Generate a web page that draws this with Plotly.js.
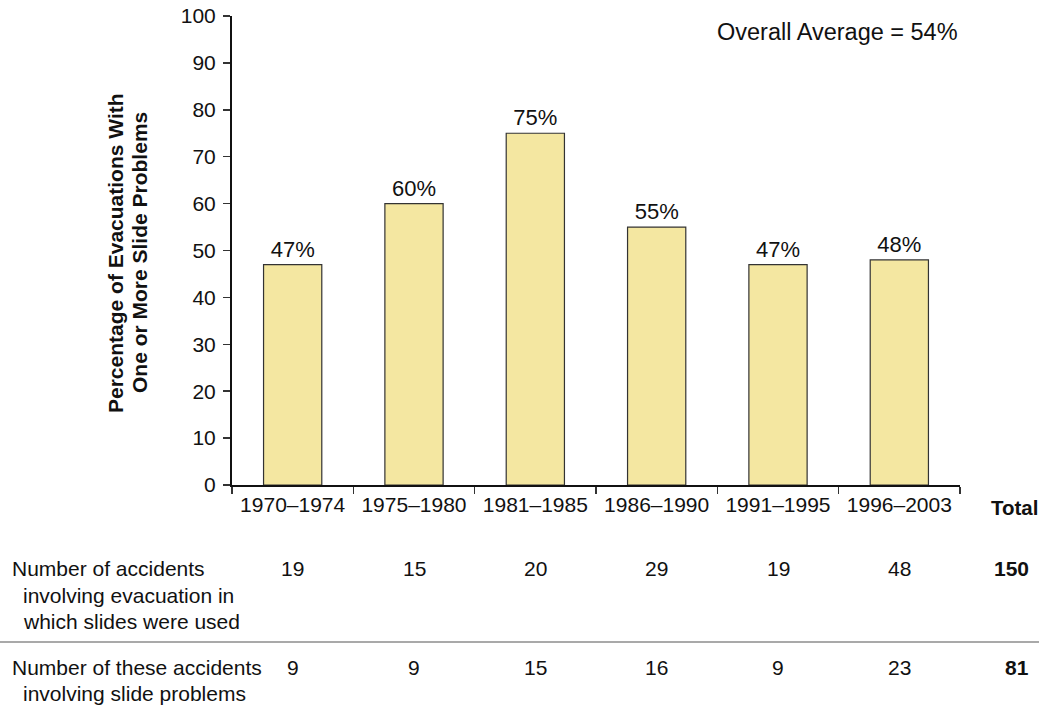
<!DOCTYPE html>
<html>
<head>
<meta charset="utf-8">
<script src="https://cdn.plot.ly/plotly-3.0.1.min.js"></script>
<style>html,body{margin:0;padding:0;background:#fff;}#chart{width:1041px;height:706px;}</style>
</head>
<body>
<div id="chart"></div>
<script>
var periods = ["1970–1974", "1975–1980", "1981–1985", "1986–1990", "1991–1995", "1996–2003"];
var percentages = [47, 60, 75, 55, 47, 48];
var accidentsWithSlides = [19, 15, 20, 29, 19, 48];
var accidentsWithProblems = [9, 9, 15, 16, 9, 23];
var totalWithSlides = 150;
var totalWithProblems = 81;
var overallAverage = 54;
var yTicks = [0, 10, 20, 30, 40, 50, 60, 70, 80, 90, 100];

var FONT = "Liberation Sans, Arial, Helvetica, sans-serif";
var TXT = "#111111";

var trace = {
  type: "bar",
  x: periods,
  y: percentages,
  text: percentages.map(function(v){return v + "%";}),
  textposition: "outside",
  cliponaxis: false,
  textfont: {family: FONT, size: 22, color: TXT},
  marker: {color: "#f4e7a1", line: {color: "#333333", width: 1.2}},
  width: 0.48,
  hoverinfo: "none"
};

var ann = [];
function pyPix(py){ return (485 - py) / 469; }
function pxPix(px){ return (px - 232) / 728; }
// y-axis title (two separate lines for exact spacing)
ann.push({xref: "paper", yref: "paper", x: pxPix(116), y: pyPix(253), xanchor: "center", yanchor: "middle",
  text: "<b>Percentage of Evacuations With</b>", textangle: -90,
  showarrow: false, font: {family: FONT, size: 21, color: TXT}});
ann.push({xref: "paper", yref: "paper", x: pxPix(140), y: pyPix(253), xanchor: "center", yanchor: "middle",
  text: "<b>One or More Slide Problems</b>", textangle: -90,
  showarrow: false, font: {family: FONT, size: 21, color: TXT}});
// overall average
ann.push({xref: "paper", yref: "paper", x: pxPix(960), y: pyPix(32), xanchor: "right", yanchor: "middle",
  text: "Overall Average = " + overallAverage + "%", showarrow: false,
  font: {family: FONT, size: 23.5, color: TXT}});
// Total header
ann.push({xref: "paper", yref: "paper", x: pxPix(1014), y: pyPix(507), xanchor: "center", yanchor: "middle",
  text: "<b>Total</b>", showarrow: false, font: {family: FONT, size: 20.5, color: TXT}});

var rowLabels = [
  ["Number of accidents", 10, 568],
  ["involving evacuation in", 21, 595],
  ["which slides were used", 21, 621],
  ["Number of these accidents", 10, 667],
  ["involving slide problems", 21, 693]
];
rowLabels.forEach(function(r){
  ann.push({xref: "paper", yref: "paper", x: pxPix(r[1]), y: pyPix(r[2]), xanchor: "left", yanchor: "middle",
    text: r[0], showarrow: false, font: {family: FONT, size: 21, color: TXT}});
});
periods.forEach(function(p, i){
  ann.push({xref: "x", yref: "paper", x: p, y: pyPix(568), xanchor: "center", yanchor: "middle",
    text: String(accidentsWithSlides[i]), showarrow: false, font: {family: FONT, size: 21, color: TXT}});
  ann.push({xref: "x", yref: "paper", x: p, y: pyPix(667), xanchor: "center", yanchor: "middle",
    text: String(accidentsWithProblems[i]), showarrow: false, font: {family: FONT, size: 21, color: TXT}});
});
ann.push({xref: "paper", yref: "paper", x: pxPix(1031), y: pyPix(568), xanchor: "right", yanchor: "middle",
  text: "<b>" + totalWithSlides + "</b>", showarrow: false, font: {family: FONT, size: 21, color: TXT}});
ann.push({xref: "paper", yref: "paper", x: pxPix(1031), y: pyPix(667), xanchor: "right", yanchor: "middle",
  text: "<b>" + totalWithProblems + "</b>", showarrow: false, font: {family: FONT, size: 21, color: TXT}});

var layout = {
  width: 1041, height: 706,
  margin: {l: 232, r: 81, t: 16, b: 221, pad: 0},
  paper_bgcolor: "#ffffff", plot_bgcolor: "#ffffff",
  showlegend: false,
  bargap: 0.52,
  xaxis: {
    type: "category",
    showline: true, linecolor: "#111", linewidth: 2,
    ticks: "outside", tickson: "boundaries", ticklen: 7, tickwidth: 1.5, tickcolor: "#333",
    tickfont: {family: FONT, size: 21, color: TXT},
    showgrid: false, zeroline: false, fixedrange: true
  },
  yaxis: {
    range: [0, 100], tickvals: yTicks,
    showline: true, linecolor: "#111", linewidth: 2,
    ticks: "outside", ticklen: 7, tickwidth: 1.5, tickcolor: "#333",
    tickfont: {family: FONT, size: 21, color: TXT},
    ticklabelstandoff: 3,
    showgrid: false, zeroline: false, fixedrange: true
  },
  shapes: [{type: "line", xref: "paper", yref: "paper", x0: pxPix(0), x1: pxPix(1039),
    y0: pyPix(642), y1: pyPix(642), line: {color: "#555", width: 1.2}}],
  annotations: ann
};

Plotly.newPlot("chart", [trace], layout, {displayModeBar: false, staticPlot: true});
</script>
</body>
</html>
